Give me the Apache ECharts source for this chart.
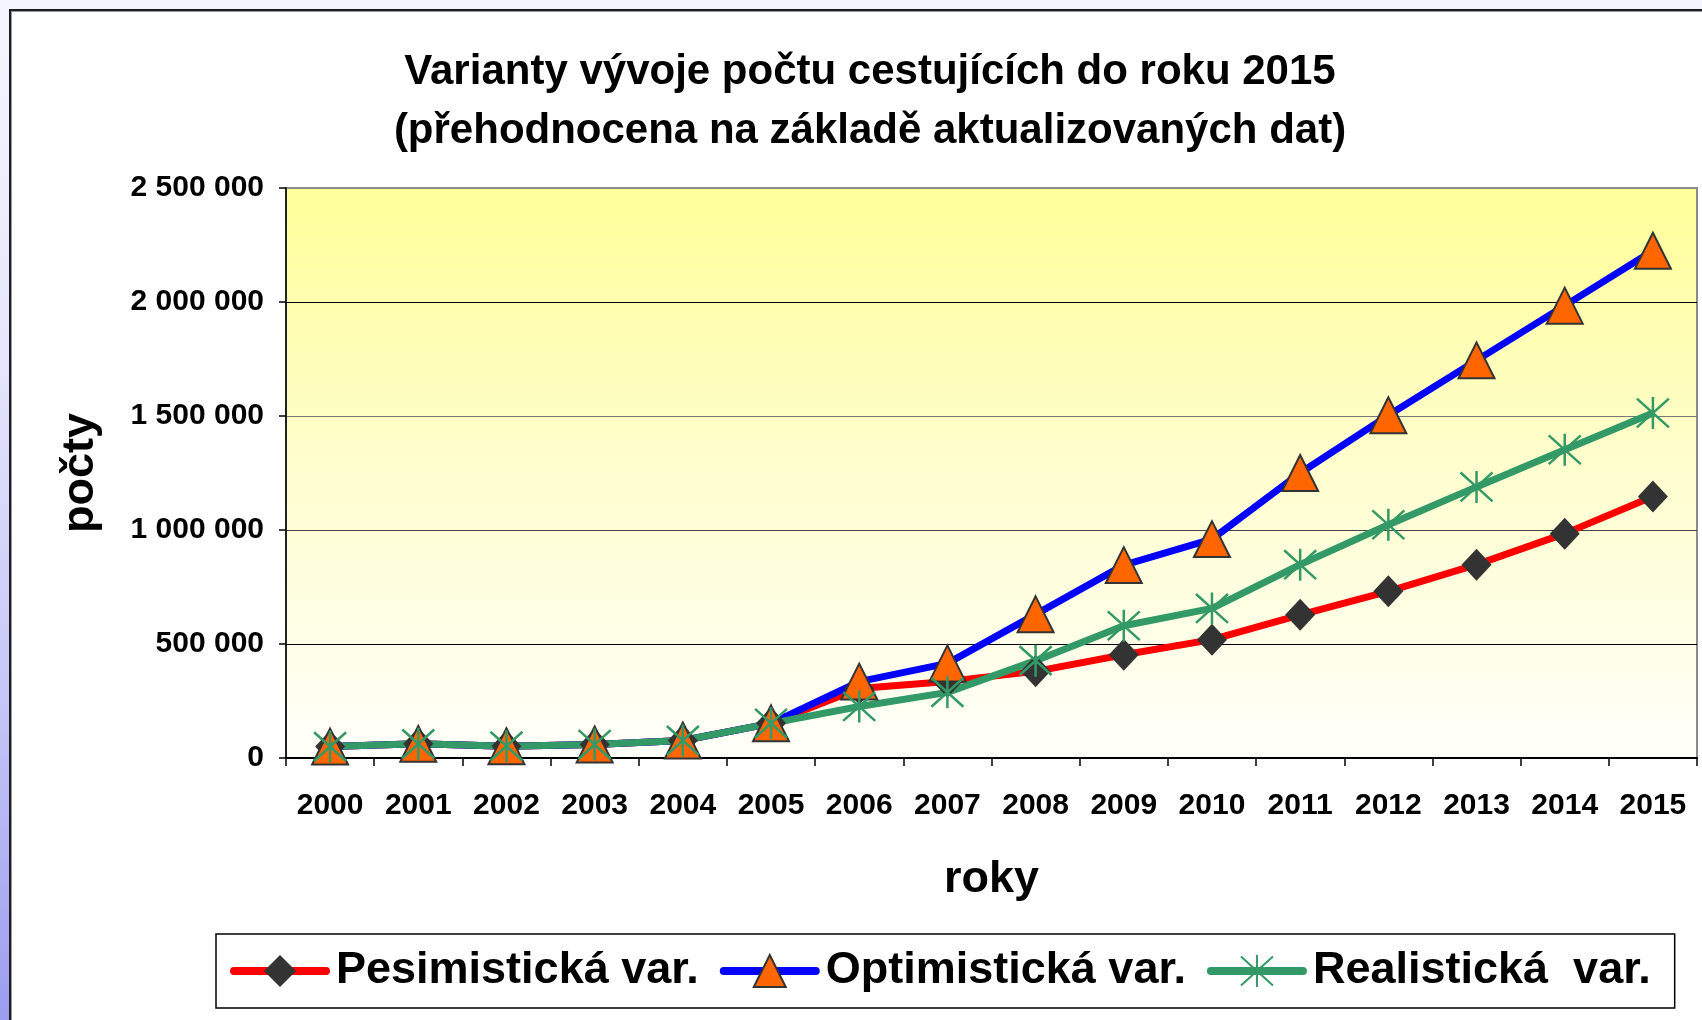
<!DOCTYPE html>
<html>
<head>
<meta charset="utf-8">
<script src="https://cdn.jsdelivr.net/npm/echarts@6/dist/echarts.min.js"></script>
<style>
html, body { margin: 0; padding: 0; width: 1702px; height: 1020px; overflow: hidden; }
#bg { position: absolute; left: 0; top: 0; width: 1702px; height: 1020px;
  background: linear-gradient(to bottom, #f6f6ff 0%, #e6e6fc 35%, #c4c4f6 70%, #9c9cf0 100%); }
#frame { position: absolute; left: 9px; top: 9px; width: 1700px; height: 1020px; background: #ffffff;
  border-left: 2px solid #1c1c28; border-top: 2px solid #1c1c28; box-shadow: inset 1px 1px 0 #9a9a9a; }
#chart { position: absolute; left: 0; top: 0; width: 1702px; height: 1020px; }
</style>
</head>
<body>
<div id="bg"></div>
<div id="frame"></div>
<div id="chart"></div>
<script>
var years = ['2000','2001','2002','2003','2004','2005','2006','2007','2008','2009','2010','2011','2012','2013','2014','2015'];
var pesimisticka = [50000, 62000, 52000, 59000, 77000, 152000, 305000, 336000, 380000, 453000, 519000, 628000, 731000, 848000, 984000, 1147000];
var optimisticka = [50000, 62000, 52000, 59000, 77000, 152000, 335000, 415000, 630000, 846000, 960000, 1250000, 1503000, 1744000, 1984000, 2225000];
var realisticka  = [50000, 62000, 52000, 59000, 77000, 152000, 226000, 288000, 427000, 580000, 656000, 848000, 1023000, 1189000, 1352000, 1513000];
var seriesNames = ['Pesimistická var.', 'Optimistická var.', 'Realistická  var.'];
var titleText = 'Varianty vývoje počtu cestujících do roku 2015\n(přehodnocena na základě aktualizovaných dat)';
var xName = 'roky';
var yName = 'počty';

var FONT = 'Arial, "Liberation Sans", sans-serif';
var chart = echarts.init(document.getElementById('chart'), null, {renderer: 'canvas'});

function fmt(v) { return String(v).replace(/\B(?=(\d{3})+(?!\d))/g, ' '); }

var option = {
  backgroundColor: 'transparent',
  animation: false,
  title: {
    text: titleText,
    left: 865,
    top: 38,
    textAlign: 'center',
    textStyle: { fontFamily: FONT, fontSize: 42, fontWeight: 'bold', color: '#000', lineHeight: 59 }
  },
  legend: {
    data: seriesNames,
    left: 216,
    top: 934,
    orient: 'horizontal',
    itemWidth: 92,
    itemHeight: 40,
    itemGap: 21,
    padding: [14, 24, 14, 14],
    borderColor: '#000',
    borderWidth: 1.5,
    backgroundColor: '#ffffff',
    selectedMode: false,
    lineStyle: { width: 8, cap: 'round' },
    textStyle: { fontFamily: FONT, fontSize: 45, fontWeight: 'bold', color: '#000', lineHeight: 46, padding: [0, 0, 0, 5] }
  },
  grid: {
    left: 286, right: 5, top: 188, bottom: 262,
    show: true,
    backgroundColor: {
      type: 'linear', x: 0, y: 0, x2: 0, y2: 1,
      colorStops: [{offset: 0, color: '#ffff99'}, {offset: 0.5, color: '#fffecf'}, {offset: 1, color: '#fffffa'}]
    },
    borderColor: '#8c8c8c',
    borderWidth: 2,
    outerBoundsMode: 'none',
    containLabel: false
  },
  xAxis: {
    type: 'category',
    data: years,
    boundaryGap: true,
    name: xName,
    nameLocation: 'middle',
    nameGap: 99,
    nameTextStyle: { fontFamily: FONT, fontSize: 45, fontWeight: 'bold', color: '#000' },
    axisLine: { show: true, lineStyle: { color: '#000', width: 2 } },
    axisTick: { show: true, length: 8, inside: false, alignWithLabel: false, lineStyle: { color: '#000', width: 1.5 } },
    axisLabel: { fontFamily: FONT, fontSize: 30, fontWeight: 'bold', color: '#000', margin: 33, interval: 0 },
    splitLine: { show: false }
  },
  yAxis: {
    type: 'value',
    min: 0,
    max: 2500000,
    interval: 500000,
    name: yName,
    nameLocation: 'middle',
    nameRotate: 90,
    nameGap: 183,
    nameTextStyle: { fontFamily: FONT, fontSize: 45, fontWeight: 'bold', color: '#000' },
    axisLine: { show: true, lineStyle: { color: '#000', width: 1.5 } },
    axisTick: { show: true, length: 7, inside: false, lineStyle: { color: '#000', width: 1.5 } },
    axisLabel: { fontFamily: FONT, fontSize: 30, fontWeight: 'bold', color: '#000', margin: 22, formatter: fmt },
    splitLine: { show: true, lineStyle: { color: ['#000000', '#000000', '#444444', '#777777', '#000000', '#8c8c8c'], width: 1.2 } }
  },
  series: [
    {
      name: seriesNames[0],
      type: 'line',
      data: pesimisticka,
      symbol: 'diamond',
      symbolSize: [30, 32],
      showAllSymbol: true,
      lineStyle: { color: '#ff0000', width: 7 },
      itemStyle: { color: '#333333', borderColor: '#333333', borderWidth: 0 },
      emphasis: { disabled: true },
      silent: true
    },
    {
      name: seriesNames[1],
      type: 'line',
      data: optimisticka,
      symbol: 'triangle',
      symbolSize: [36, 36],
      showAllSymbol: true,
      lineStyle: { color: '#0000ff', width: 7 },
      itemStyle: { color: '#ff6600', borderColor: '#333333', borderWidth: 2 },
      emphasis: { disabled: true },
      silent: true
    },
    {
      name: seriesNames[2],
      type: 'line',
      data: realisticka,
      symbol: 'path://M10,0L10,20M1,1L19,19M1,19L19,1',
      symbolSize: [32, 32],
      showAllSymbol: true,
      lineStyle: { color: '#339966', width: 7 },
      itemStyle: { color: '#339966', borderColor: '#339966', borderWidth: 2.5 },
      emphasis: { disabled: true },
      silent: true
    }
  ]
};
chart.setOption(option);
</script>
</body>
</html>
